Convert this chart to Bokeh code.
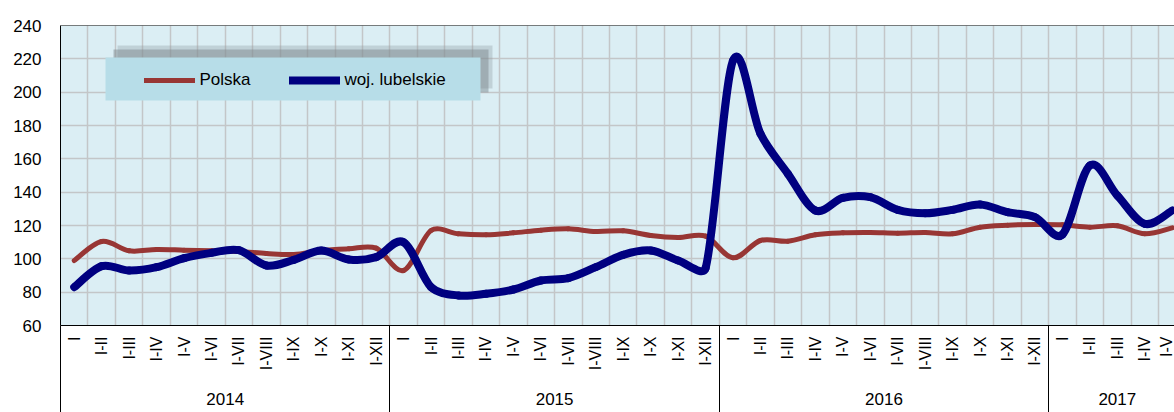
import math
from bokeh.plotting import figure
from bokeh.models import (Range1d, FixedTicker, LinearAxis, BoxAnnotation, Legend,
                          LegendItem, Span, ColumnDataSource)
from bokeh.embed import file_html
from bokeh.resources import INLINE

# ---------------- data ----------------
months_full = ["I", "I-II", "I-III", "I-IV", "I-V", "I-VI", "I-VII", "I-VIII",
               "I-IX", "I-X", "I-XI", "I-XII"]
years = ["2014", "2015", "2016", "2017"]
months_per_year = [12, 12, 12, 5]
y_ticks = [60, 80, 100, 120, 140, 160, 180, 200, 220, 240]

polska = [99, 110.4, 104.8, 105.6, 105.2, 104.8, 104.4, 103.2, 102.6, 105, 106, 106.4,
          93, 117, 115, 114.4, 115.6, 117.2, 118, 116.4, 116.8, 114, 112.8, 113.6,
          100.6, 111, 110.6, 114.4, 115.6, 115.8, 115.4, 115.8, 115, 119, 120.2, 120.6,
          120.4, 119, 119.8, 115, 118.6]
lubelskie = [83, 95.6, 93, 95, 100.4, 103.6, 105.2, 96, 99.4, 105, 99.6, 101,
             110, 83, 78, 79, 81.6, 87, 88.4, 95, 102.4, 105, 99, 94.4,
             219, 175, 151, 129, 136.6, 137, 129.4, 127.4, 129.4, 132.6, 128, 125,
             114.6, 156, 138, 121, 129]

# category labels
cat_labels = []
for n in months_per_year:
    cat_labels += months_full[:n]
n_cat = len(cat_labels)
xs = list(range(n_cat))

# ---------------- layout constants ----------------
FIG_W, FIG_H = 1174, 412
LEFT, TOP, BOTTOM = 60, 25, 87
FRAME_H = FIG_H - TOP - BOTTOM
CAT_PX = 27.45
PX_Y = FRAME_H / 180.0
FRAME_W = FIG_W - LEFT
x_start = -0.5
x_end = x_start + FRAME_W / CAT_PX
FONT = "Liberation Sans"
SEP_LEN = 87

def dx(px):  # canvas pixel -> data x
    return x_start + (px - LEFT) / CAT_PX

def dy(py):  # canvas pixel -> data y
    return 240 - (py - TOP) / PX_Y

# ---------------- figure ----------------
p = figure(width=FIG_W, height=FIG_H, output_backend="svg", toolbar_location=None,
           x_range=Range1d(x_start, x_end), y_range=Range1d(60, 240),
           min_border_left=LEFT, min_border_right=0, min_border_top=TOP,
           min_border_bottom=BOTTOM)
p.outline_line_color = None
p.background_fill_color = "#dbeef4"
p.border_fill_color = "white"

# grids
p.xgrid[0].ticker = FixedTicker(ticks=[i - 0.5 for i in range(n_cat + 1)])
p.ygrid[0].ticker = FixedTicker(ticks=y_ticks)
for g in (p.xgrid[0], p.ygrid[0]):
    g.grid_line_color = "#c3c6c8"
    g.grid_line_width = 1.5

# top border
p.add_layout(Span(location=240, dimension="width", line_color="black", line_width=1))

# y axis
ya = p.yaxis[0]
ya.ticker = FixedTicker(ticks=y_ticks)
ya.major_tick_out = 0
ya.major_tick_in = 0
ya.minor_tick_line_color = None
ya.axis_line_color = "black"
ya.major_label_standoff = 19
ya.major_label_text_font = FONT
ya.major_label_text_font_size = "17px"
ya.major_label_text_color = "black"

# month axis (year separators drawn as long minor ticks)
boundaries = []
acc = 0
for n in months_per_year:
    boundaries.append(acc - 0.5)
    acc += n
xa = p.xaxis[0]
xa.ticker = FixedTicker(ticks=xs, minor_ticks=boundaries)
xa.major_label_overrides = {i: lab for i, lab in zip(xs, cat_labels)}
xa.major_tick_out = 0
xa.major_tick_in = 0
xa.major_tick_line_color = None
xa.minor_tick_in = 0
xa.minor_tick_out = SEP_LEN
xa.minor_tick_line_color = "black"
xa.minor_tick_line_width = 1
xa.axis_line_color = "black"
xa.major_label_orientation = math.pi / 2
xa.major_label_standoff = 11 - SEP_LEN
xa.major_label_text_font = FONT
xa.major_label_text_font_size = "16px"
xa.major_label_text_color = "black"

# year axis
year_centers = []
acc = 0
for n in months_per_year:
    year_centers.append(acc + (n - 1) / 2.0)
    acc += n
yr = LinearAxis(ticker=FixedTicker(ticks=year_centers, minor_ticks=[]),
                major_label_overrides={c: y for c, y in zip(year_centers, years)})
yr.axis_line_color = None
yr.major_tick_line_color = None
yr.major_tick_out = 0
yr.major_tick_in = 0
yr.minor_tick_line_color = None
yr.minor_tick_out = 0
yr.minor_tick_in = 0
yr.major_label_standoff = 19
yr.major_label_text_font = FONT
yr.major_label_text_font_size = "17px"
yr.major_label_text_color = "black"
p.add_layout(yr, "below")

# ---------------- smooth curves (bezier through the data points) ----------------
def bezier_source(x, y):
    # work in pixel space so the smoothing looks like a spreadsheet's smoothed line
    X = [v * CAT_PX for v in x]
    Y = [v * PX_Y for v in y]
    n = len(X)
    arms = []
    for i in range(n):
        i0 = max(i - 1, 0)
        i1 = min(i + 1, n - 1)
        arms.append(((X[i1] - X[i0]) / 6.0, (Y[i1] - Y[i0]) / 6.0))

    def capped(a, cap):
        L = math.hypot(a[0], a[1])
        if L <= cap or L == 0:
            return a
        s = cap / L
        return (a[0] * s, a[1] * s)

    d = dict(x0=[], y0=[], x1=[], y1=[], cx0=[], cy0=[], cx1=[], cy1=[])
    for i in range(n - 1):
        seg = math.hypot(X[i + 1] - X[i], Y[i + 1] - Y[i])
        a0 = capped(arms[i], seg / 3.0)
        a1 = capped(arms[i + 1], seg / 3.0)
        d["x0"].append(x[i]); d["y0"].append(y[i])
        d["x1"].append(x[i + 1]); d["y1"].append(y[i + 1])
        d["cx0"].append((X[i] + a0[0]) / CAT_PX)
        d["cy0"].append((Y[i] + a0[1]) / PX_Y)
        d["cx1"].append((X[i + 1] - a1[0]) / CAT_PX)
        d["cy1"].append((Y[i + 1] - a1[1]) / PX_Y)
    return ColumnDataSource(d)

RED = "#983634"
NAVY = "#000080"
r_pl = p.bezier(x0="x0", y0="y0", x1="x1", y1="y1", cx0="cx0", cy0="cy0",
                cx1="cx1", cy1="cy1", source=bezier_source(xs, polska),
                line_color=RED, line_width=5, line_cap="round")
r_lu = p.bezier(x0="x0", y0="y0", x1="x1", y1="y1", cx0="cx0", cy0="cy0",
                cx1="cx1", cy1="cy1", source=bezier_source(xs, lubelskie),
                line_color=NAVY, line_width=8, line_cap="round")

# ---------------- legend box with shadow ----------------
p.add_layout(BoxAnnotation(left=dx(117), right=dx(492), top=dy(45), bottom=dy(88),
                           fill_color="#8e9aa0", fill_alpha=0.35, line_color=None))
p.add_layout(BoxAnnotation(left=dx(113), right=dx(488), top=dy(49), bottom=dy(92),
                           fill_color="#7d898f", fill_alpha=0.5, line_color=None))
p.add_layout(BoxAnnotation(left=dx(105), right=dx(480), top=dy(57), bottom=dy(100),
                           fill_color="#b7dde8", fill_alpha=1.0, line_color=None))

legend = Legend(items=[LegendItem(label="Polska", renderers=[r_pl]),
                       LegendItem(label="woj. lubelskie", renderers=[r_lu])],
                location=(83.5, 234.7), orientation="horizontal",
                background_fill_alpha=0, border_line_color=None,
                padding=0, margin=0, spacing=38, glyph_width=51, glyph_height=20,
                label_standoff=5, label_height=20,
                label_text_font=FONT, label_text_font_size="17px",
                label_text_color="black")
p.add_layout(legend)

open("out.html", "w").write(file_html(p, INLINE))
